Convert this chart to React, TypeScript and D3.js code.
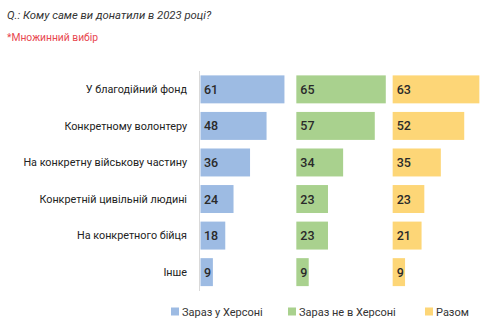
import React from "react";
import * as d3 from "d3";

const categories = [
  "У благодійний фонд",
  "Конкретному волонтеру",
  "На конкретну військову частину",
  "Конкретній цивільній людині",
  "На конкретного бійця",
  "Інше",
];
const seriesNames = ["Зараз у Херсоні", "Зараз не в Херсоні", "Разом"];
const inKherson = [61, 48, 36, 24, 18, 9];
const notInKherson = [65, 57, 34, 23, 23, 9];
const total = [63, 52, 35, 23, 21, 9];
const colors = ["#9dbbe3", "#a9d18e", "#fdd677"];

const W = 494;
const H = 330;
const FONT = "Roboto, 'Liberation Sans', sans-serif";

export default function App() {
  const series = [inKherson, notInKherson, total];
  const panelX = d3.scaleBand<number>().domain([0, 1, 2]).range([200, 489]).padding(0);
  const x = d3.scaleLinear().domain([0, 70]).range([0, panelX.bandwidth()]);
  const y = d3.scaleBand<string>().domain(categories).range([71, 290.5]).paddingInner(0.235).paddingOuter(0.12);

  const legendX = [171, 288, 425];

  return (
    <svg width={W} height={H} style={{ position: "absolute", left: 0, top: 0, background: "#fff" }} fontFamily={FONT}>
      <text x={7} y={18.5} fontSize={11.3} fontStyle="italic" fill="#333">
        Q.: Кому саме ви донатили в 2023 році?
      </text>
      <text x={7} y={41} fontSize={10.3} fill="#e8474f">
        *Множинний вибір
      </text>
      {categories.map((c) => (
        <text
          key={c}
          x={187}
          y={(y(c) as number) + y.bandwidth() / 2}
          dy="0.35em"
          textAnchor="end"
          fontSize={10.8}
          fill="#222"
        >
          {c}
        </text>
      ))}
      <line x1={199.5} x2={199.5} y1={71} y2={291} stroke="#d9d9d9" strokeWidth={1} />
      {series.map((vals, si) => (
        <g key={si} transform={`translate(${panelX(si)},0)`}>
          {vals.map((v, i) => (
            <g key={i}>
              <rect
                x={si === 0 ? 0.5 : 0}
                y={y(categories[i])}
                width={x(v)}
                height={y.bandwidth()}
                fill={colors[si]}
              />
              <text
                x={4}
                y={(y(categories[i]) as number) + y.bandwidth() / 2}
                dy="0.36em"
                fontSize={12.5}
                fontWeight={500}
                fill="#2a2a2a"
              >
                {v}
              </text>
            </g>
          ))}
        </g>
      ))}
      {seriesNames.map((n, i) => (
        <g key={n} transform={`translate(${legendX[i]},312)`}>
          <rect x={0} y={-4.5} width={8} height={8} fill={colors[i]} />
          <text x={11} y={0} dy="0.35em" fontSize={11} fill="#333">
            {n}
          </text>
        </g>
      ))}
    </svg>
  );
}
